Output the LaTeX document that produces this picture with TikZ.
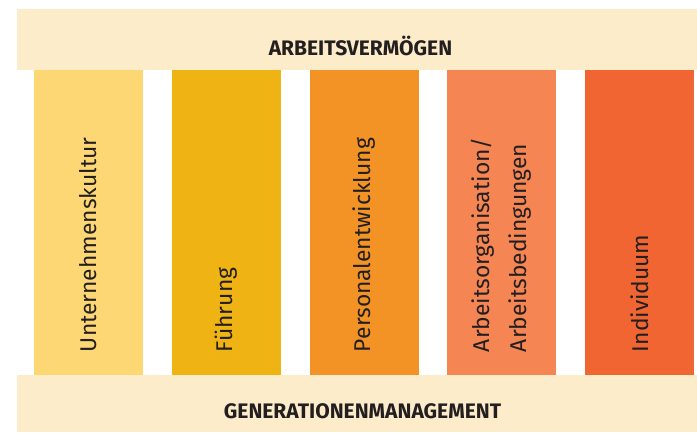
\documentclass[tikz,border=0pt]{standalone}
\usepackage{fontspec}
\setmainfont{Fira Sans}
\usepackage{tikz}
\usetikzlibrary{calc,positioning}
\definecolor{BarCream}{HTML}{FDECC9}
\definecolor{ColOne}{HTML}{FDD774}
\definecolor{ColTwo}{HTML}{F0B314}
\definecolor{ColThree}{HTML}{F39325}
\definecolor{ColFour}{HTML}{F58654}
\definecolor{ColFive}{HTML}{F16533}
\definecolor{InkDark}{HTML}{231F20}

\begin{document}
\begin{tikzpicture}[x=1pt, y=-1pt,
  bar/.style={rectangle, fill=BarCream, minimum width=680pt, inner sep=0pt},
  pillar/.style={rectangle, minimum width=109pt, minimum height=305pt, inner sep=0pt},
  ptext/.style={rotate=90, anchor=west, align=left, inner sep=0pt,
                font=\fontsize{22.8}{37}\selectfont, text=InkDark},
  ttl/.style={font=\fontsize{21}{24}\selectfont\bfseries, text=InkDark}
]
  \useasboundingbox (0,0) rectangle (697,432);
  % frame bars
  \node[bar, minimum height=61pt] (top) at (357, 39.5) {};
  \node[bar, minimum height=57pt] (bot) at (357, 403.5) {};
  \node[ttl] (topT) at (360.5, 46) {ARBEITSVERMÖGEN};
  \node[ttl] (botT) at (362.5, 411) {GENERATIONENMANAGEMENT};
  % the five pillars
  \node[pillar, fill=ColOne]   (p1) at (88.5, 222.5) {};
  \node[pillar, fill=ColTwo]   (p2) at (226.5, 222.5) {};
  \node[pillar, fill=ColThree] (p3) at (364.5, 222.5) {};
  \node[pillar, fill=ColFour]  (p4) at (501.5, 222.5) {};
  \node[pillar, fill=ColFive]  (p5) at (639.5, 222.5) {};
  \node[ptext] (t1) at ($(p1.south)+(0,-23)$) {Unternehmenskultur};
  \node[ptext] (t2) at ($(p2.south)+(0,-23)$) {Führung};
  \node[ptext] (t3) at ($(p3.south)+(0,-23)$) {Personalentwicklung};
  \node[ptext] (t4) at ($(p4.south)+(0,-23)$) {Arbeitsorganisation/\\Arbeitsbedingungen};
  \node[ptext] (t5) at ($(p5.south)+(0,-23)$) {Individuum};
\end{tikzpicture}
\end{document}
